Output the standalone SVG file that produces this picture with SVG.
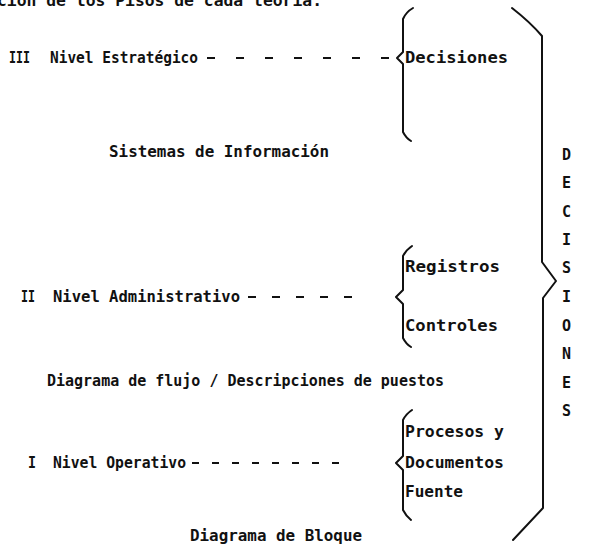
<svg xmlns="http://www.w3.org/2000/svg" width="608" height="552" viewBox="0 0 608 552">
<style>
text{font-family:"DejaVu Sans Mono","Liberation Mono",monospace;font-size:15px;font-weight:bold;fill:#111;}
.br{fill:none;stroke:#111;stroke-width:2;stroke-linejoin:round;stroke-linecap:round;}
.dash{stroke:#111;stroke-width:2;}
</style>
<rect width="608" height="552" fill="#fff"/>
<g id="intro"><text x="-3" y="6" textLength="325" lengthAdjust="spacingAndGlyphs">ción de los Pisos de cada teoría.</text></g>
<g id="nivel3">
<text x="9" y="63" textLength="21" lengthAdjust="spacingAndGlyphs">III</text>
<text x="50" y="63" textLength="148" lengthAdjust="spacingAndGlyphs">Nivel Estratégico</text>
</g>
<g id="decisiones">
<path class="br" d="M413,8 Q406,12 403,19 L403,52 L397,58 L403,64 L403,132 Q406,138 411,141"/>
<text x="405" y="63" textLength="103" lengthAdjust="spacingAndGlyphs">Decisiones</text>
</g>
<g id="sistemas"><text x="109" y="157" textLength="220" lengthAdjust="spacingAndGlyphs">Sistemas de Información</text></g>
<g id="nivel2">
<text x="21" y="302" textLength="14" lengthAdjust="spacingAndGlyphs">II</text>
<text x="53" y="302" textLength="187" lengthAdjust="spacingAndGlyphs">Nivel Administrativo</text>
</g>
<g id="registros-controles">
<path class="br" d="M412,246 Q406,250 403,256 L403,290 L396,297 L403,304 L403,338 Q406,344 411,347"/>
<text x="405" y="272" textLength="95" lengthAdjust="spacingAndGlyphs">Registros</text>
<text x="405" y="331" textLength="93" lengthAdjust="spacingAndGlyphs">Controles</text>
</g>
<g id="flujo"><text x="47" y="386" textLength="397" lengthAdjust="spacingAndGlyphs">Diagrama de flujo / Descripciones de puestos</text></g>
<g id="nivel1">
<text x="28" y="468" textLength="8" lengthAdjust="spacingAndGlyphs">I</text>
<text x="53" y="468" textLength="133" lengthAdjust="spacingAndGlyphs">Nivel Operativo</text>
</g>
<g id="procesos">
<path class="br" d="M412,410 Q406,414 403,420 L403,456 L396,463 L403,470 L403,510 Q406,516 411,520"/>
<text x="405" y="437" textLength="99" lengthAdjust="spacingAndGlyphs">Procesos y</text>
<text x="405" y="468" textLength="99" lengthAdjust="spacingAndGlyphs">Documentos</text>
<text x="405" y="497" textLength="58" lengthAdjust="spacingAndGlyphs">Fuente</text>
</g>
<g id="bloque"><text x="190" y="541" textLength="172" lengthAdjust="spacingAndGlyphs">Diagrama de Bloque</text></g>
<g id="decisiones-brace">
<path class="br" d="M512,8 Q530,22 542,36 L542,262 L556,281 L543,298 L543,508 L513,540"/>
</g>
<g id="decisiones-vertical">
<text x="562" y="160">D</text><text x="562" y="188">E</text><text x="562" y="217">C</text><text x="562" y="245">I</text><text x="562" y="273">S</text><text x="562" y="302">I</text><text x="562" y="331">O</text><text x="562" y="359">N</text><text x="562" y="388">E</text><text x="562" y="416">S</text>
</g>
<g id="connectors">
<line class="dash" x1="207" y1="58" x2="389" y2="58" stroke-dasharray="8 21"/>
<line class="dash" x1="248" y1="297" x2="352" y2="297" stroke-dasharray="8 16"/>
<line class="dash" x1="192" y1="463" x2="345" y2="463" stroke-dasharray="7 13"/>
</g>
</svg>
